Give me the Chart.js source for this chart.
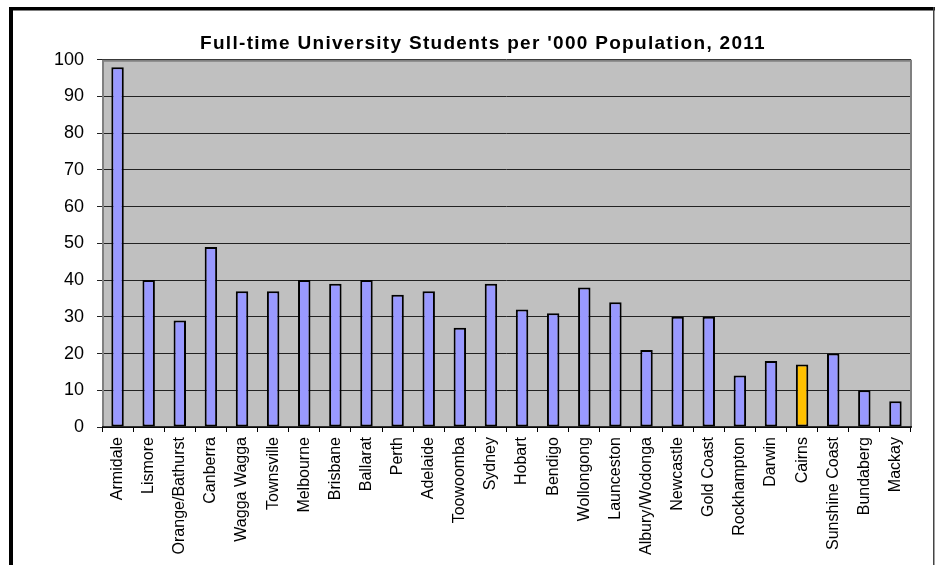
<!DOCTYPE html>
<html>
<head>
<meta charset="utf-8">
<title>Full-time University Students per '000 Population, 2011</title>
<script src="https://cdn.jsdelivr.net/npm/chart.js@4/dist/chart.umd.min.js"></script>
<style>
  html, body { margin: 0; padding: 0; background: #ffffff; }
  #wrap { width: 935px; height: 565px; position: relative; }
  canvas { display: block; }
</style>
</head>
<body>
<div id="wrap"><canvas id="chart" width="935" height="565"></canvas></div>
<script>
// Regional centres, in the order they are plotted
const cities = [
  'Armidale', 'Lismore', 'Orange/Bathurst', 'Canberra', 'Wagga Wagga',
  'Townsville', 'Melbourne', 'Brisbane', 'Ballarat', 'Perth', 'Adelaide',
  'Toowoomba', 'Sydney', 'Hobart', 'Bendigo', 'Wollongong', 'Launceston',
  'Albury/Wodonga', 'Newcastle', 'Gold Coast', 'Rockhampton', 'Darwin',
  'Cairns', 'Sunshine Coast', 'Bundaberg', 'Mackay'
];

// Full-time university students per thousand residents
const studentsPerThousand = [
  98, 40, 29, 49, 37,
  37, 40, 39, 40, 36, 37,
  27, 39, 32, 31, 38, 34,
  21, 30, 30, 14, 18,
  17, 20, 10, 7
];

// Value-axis ticks
const yTicks = [0, 10, 20, 30, 40, 50, 60, 70, 80, 90, 100];

const highlightCity = 'Cairns';
const chartTitle = "Full-time University Students per '000 Population, 2011";

const barColors = cities.map(c => c === highlightCity ? '#FFC000' : '#9999FF');

// Grey plot background, plot frame and the outer chart frame
const framePlugin = {
  id: 'frames',
  afterLayout(chart) {
    // give the title a little extra tracking
    const tb = chart.titleBlock;
    if (tb && !tb._tracked) {
      const baseDraw = tb.draw.bind(tb);
      tb.draw = function (area) {
        const ctx = chart.ctx;
        const prev = ctx.letterSpacing;
        ctx.letterSpacing = '1.3px';
        baseDraw(area);
        ctx.letterSpacing = prev || '0px';
      };
      tb._tracked = true;
    }
  },
  beforeDraw(chart) {
    const { ctx, chartArea: a } = chart;
    ctx.save();
    ctx.fillStyle = '#ffffff';
    ctx.fillRect(0, 0, chart.width, chart.height);
    ctx.fillStyle = '#C0C0C0';
    ctx.fillRect(a.left, a.top, a.right - a.left, a.bottom - a.top);
    ctx.restore();
  },
  afterDatasetsDraw(chart) {
    const { ctx, chartArea: a } = chart;
    ctx.save();
    ctx.strokeStyle = '#808080';
    ctx.lineWidth = 2;
    ctx.beginPath();
    ctx.moveTo(a.left + 1, a.bottom);
    ctx.lineTo(a.left + 1, a.top + 1);
    ctx.lineTo(a.right, a.top + 1);
    ctx.lineTo(a.right, a.bottom);
    ctx.stroke();
    ctx.strokeStyle = '#000000';
    ctx.lineWidth = 1.5;
    ctx.beginPath();
    ctx.moveTo(a.left, a.bottom);
    ctx.lineTo(a.right + 1, a.bottom);
    ctx.stroke();
    ctx.restore();
  },
  afterDraw(chart) {
    const { ctx } = chart;
    ctx.save();
    ctx.fillStyle = '#000000';
    ctx.fillRect(9, 7, chart.width - 9, 3.5);   // top edge
    ctx.fillRect(9, 7, 4, chart.height - 7);    // left edge
    ctx.fillStyle = '#444444';
    ctx.fillRect(933, 7, 1.5, chart.height - 7); // right edge
    ctx.restore();
  }
};

new Chart(document.getElementById('chart'), {
  type: 'bar',
  data: {
    labels: cities,
    datasets: [{
      data: studentsPerThousand,
      backgroundColor: barColors,
      borderColor: '#000000',
      borderWidth: 2,
      borderSkipped: false,
      categoryPercentage: 1.0,
      barPercentage: 0.4
    }]
  },
  options: {
    responsive: false,
    animation: false,
    devicePixelRatio: 1,
    layout: { padding: { top: 9, left: 55, right: 24, bottom: 0 } },
    plugins: {
      legend: { display: false },
      tooltip: { enabled: false },
      title: {
        display: true,
        text: chartTitle,
        color: '#000000',
        font: { family: 'Arial, "Liberation Sans", sans-serif', size: 19, weight: 'bold' },
        padding: { top: 23, bottom: 5 }
      }
    },
    scales: {
      x: {
        grid: {
          display: true,
          offset: true,
          drawOnChartArea: false,
          drawTicks: true,
          tickLength: 5,
          color: '#000000',
          lineWidth: 1
        },
        border: { display: false },
        ticks: {
          autoSkip: false,
          minRotation: 90,
          maxRotation: 90,
          padding: 5,
          color: '#000000',
          font: { family: 'Arial, "Liberation Sans", sans-serif', size: 16 }
        },
        afterFit(scale) { scale.height = 138; }
      },
      y: {
        min: 0,
        max: 100,
        afterBuildTicks(scale) { scale.ticks = yTicks.map(v => ({ value: v })); },
        grid: {
          color: '#222222',
          lineWidth: 1,
          drawTicks: true,
          tickLength: 5
        },
        border: { display: false },
        ticks: {
          padding: 13,
          color: '#000000',
          font: { family: 'Arial, "Liberation Sans", sans-serif', size: 18 }
        },
        afterFit(scale) { scale.width = 47; }
      }
    }
  },
  plugins: [framePlugin]
});
</script>
</body>
</html>
